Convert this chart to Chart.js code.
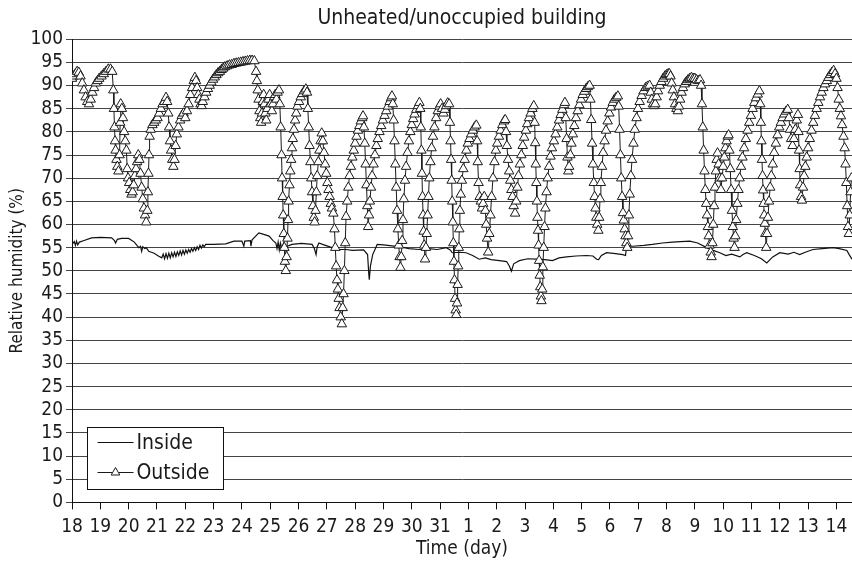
<!DOCTYPE html>
<html>
<head>
<meta charset="utf-8">
<title>Unheated/unoccupied building</title>
<script src="https://cdn.jsdelivr.net/npm/chart.js@4.4.1/dist/chart.umd.min.js"></script>
<style>
  html, body { margin: 0; padding: 0; background: #fff; overflow: hidden; }
  #wrap { width: 852px; height: 562px; position: relative; }
</style>
</head>
<body>
<div id="wrap"><canvas id="chart"></canvas></div>
<script>
// x = days since the 18th (0 = day 18, 14 = day 1, 27 = day 14)
const dayLabels = ['18','19','20','21','22','23','24','25','26','27','28','29','30','31',
                   '1','2','3','4','5','6','7','8','9','10','11','12','13','14'];

const insideTime = [
  0.00,0.08,0.12,0.16,0.20,0.26,0.40,0.69,1.00,1.40,1.50,1.54,1.60,1.75,2.00,2.20,2.36,2.42,2.46,2.50,
  2.57,2.62,2.71,2.90,3.05,3.17,3.22,3.27,3.32,3.37,3.42,3.47,3.52,3.57,3.62,3.67,3.72,3.77,3.82,3.87,
  3.92,3.97,4.02,4.07,4.12,4.17,4.22,4.27,4.32,4.37,4.42,4.47,4.52,4.57,4.62,4.67,4.72,5.00,5.43,5.72,
  6.00,6.07,6.10,6.30,6.32,6.36,6.60,6.80,6.96,7.10,7.20,7.24,7.28,7.32,7.36,7.41,7.46,7.50,7.56,7.77,
  8.10,8.48,8.56,8.62,8.66,8.72,8.90,9.18,9.40,9.68,9.90,10.30,10.44,10.48,10.50,10.54,10.62,10.78,11.00,11.30,
  11.56,11.90,12.26,12.60,12.90,13.22,13.36,13.43,13.70,13.92,14.15,14.38,14.60,14.80,15.10,15.35,15.45,15.52,15.60,15.80,
  16.10,16.40,16.70,16.97,17.20,17.47,17.80,18.17,18.40,18.53,18.60,18.70,18.88,19.20,19.45,19.55,19.59,19.80,20.20,20.50,
  20.86,21.20,21.50,21.82,22.10,22.42,22.65,22.88,23.10,23.30,23.59,23.70,23.83,24.10,24.35,24.54,24.75,25.00,25.30,25.50,
  25.70,25.90,26.17,26.50,26.88,27.10,27.37,27.45,27.55
];
const insideRH = [
  55.7,56.3,55.5,56.4,55.6,56.2,56.5,57.1,57.2,57.1,56.5,56.0,56.8,57.0,57.0,56.2,55.0,55.3,54.2,55.2,
  54.8,55.0,54.2,53.8,53.2,52.8,53.6,52.6,53.7,52.7,53.8,52.8,53.9,53.0,54.0,53.1,54.1,53.3,54.3,53.4,
  54.4,53.6,54.5,53.8,54.6,54.0,54.8,54.2,55.0,54.4,55.2,54.6,55.5,54.9,55.6,55.2,55.7,55.7,55.8,56.4,
  56.4,55.3,56.4,56.5,55.3,56.7,58.2,57.8,57.5,56.5,56.0,54.8,56.2,54.5,56.0,54.8,55.8,54.5,55.2,55.7,
  55.9,55.7,54.8,53.5,55.2,56.0,55.6,55.0,54.6,54.6,54.4,54.5,53.5,49.5,48.1,51.0,53.5,55.7,55.6,55.4,
  55.2,54.8,54.6,54.8,54.6,55.0,54.5,53.9,54.0,53.9,53.3,52.5,52.8,52.4,52.2,52.0,51.0,49.9,51.5,52.2,
  52.6,52.5,52.4,52.2,52.8,53.0,53.2,53.3,53.2,52.5,52.4,53.3,53.9,53.7,53.5,53.3,55.3,55.3,55.5,55.7,
  56.0,56.2,56.3,56.4,56.0,55.0,54.4,53.9,53.3,53.6,53.0,53.5,53.9,53.3,52.6,51.7,53.0,53.9,53.6,54.0,
  53.5,54.0,54.6,54.8,55.0,54.8,54.4,53.5,52.5
];

const outsideTime = [
  0.00,0.06,0.12,0.18,0.24,0.30,0.36,0.42,0.48,0.54,0.60,0.66,0.72,0.78,0.84,0.90,0.96,
  1.04,1.12,1.20,1.28,1.36,1.42,1.46,1.48,1.50,1.52,1.54,1.57,1.60,1.64,1.68,1.70,1.72,1.76,1.80,1.84,1.88,1.92,1.95,1.98,
  2.02,2.06,2.10,2.14,2.18,2.22,2.26,2.30,2.34,2.38,2.42,2.46,2.50,2.54,2.58,2.62,2.66,2.68,2.70,2.72,2.74,2.78,2.84,2.90,2.96,
  3.02,3.08,3.14,3.20,3.26,3.32,3.36,3.40,3.43,3.46,3.50,3.54,3.58,3.62,3.66,3.70,3.76,3.82,3.88,3.94,
  4.00,4.06,4.12,4.18,4.24,4.30,4.34,4.38,4.42,4.46,4.50,4.54,4.58,4.62,4.68,4.74,4.80,4.86,4.92,4.98,
  5.04,5.10,5.16,5.22,5.28,5.34,5.40,5.48,5.56,5.64,5.72,5.80,5.88,5.96,
  6.04,6.12,6.20,6.28,6.36,6.44,6.50,6.53,6.56,6.59,6.62,6.65,6.68,6.71,6.74,6.77,6.80,6.83,6.86,6.90,6.94,6.98,
  7.02,7.06,7.10,7.14,7.18,7.22,7.26,7.31,7.34,7.37,7.40,7.42,7.44,7.46,7.48,7.50,7.52,7.55,7.58,7.61,7.63,7.65,7.68,7.71,7.74,7.77,7.80,7.84,7.88,7.92,7.96,
  8.02,8.08,8.14,8.20,8.26,8.30,8.33,8.36,8.39,8.42,8.45,8.48,8.51,8.54,8.57,8.60,8.63,8.66,8.70,8.74,8.78,8.82,8.86,8.90,8.94,8.98,
  9.02,9.06,9.10,9.14,9.18,9.23,9.27,9.30,9.33,9.36,9.39,9.42,9.45,9.49,9.53,9.56,9.59,9.62,9.65,9.68,9.72,9.76,9.80,9.85,9.90,9.95,
  10.00,10.05,10.10,10.15,10.20,10.25,10.28,10.31,10.34,10.37,10.40,10.43,10.46,10.49,10.52,10.56,10.60,10.65,10.70,10.75,10.80,10.86,10.92,10.98,
  11.04,11.10,11.16,11.22,11.27,11.30,11.33,11.36,11.39,11.42,11.45,11.48,11.51,11.54,11.57,11.60,11.63,11.66,11.69,11.72,11.76,11.80,11.85,11.90,11.95,
  12.00,12.05,12.10,12.16,12.22,12.27,12.30,12.32,12.34,12.36,12.38,12.40,12.42,12.44,12.47,12.50,12.53,12.56,12.59,12.62,12.66,12.70,12.75,12.80,12.86,12.92,12.98,
  13.02,13.07,13.12,13.17,13.22,13.27,13.32,13.35,13.37,13.39,13.41,13.43,13.45,13.47,13.49,13.51,13.53,13.55,13.57,13.60,13.62,13.64,13.66,13.68,13.70,13.73,13.77,13.82,13.87,13.93,13.98,
  14.04,14.10,14.16,14.22,14.28,14.31,14.33,14.36,14.40,14.44,14.48,14.52,14.56,14.60,14.63,14.66,14.70,14.74,14.78,14.82,14.87,14.92,14.97,
  15.02,15.08,15.14,15.20,15.26,15.30,15.33,15.36,15.40,15.44,15.48,15.52,15.56,15.60,15.65,15.69,15.73,15.77,15.82,15.87,15.92,15.97,
  16.03,16.08,16.14,16.20,16.26,16.31,16.34,16.36,16.38,16.40,16.42,16.44,16.46,16.48,16.50,16.52,16.54,16.56,16.58,16.61,16.63,16.66,16.69,16.72,16.76,16.80,16.85,16.90,16.95,
  17.02,17.08,17.14,17.20,17.26,17.32,17.38,17.41,17.44,17.47,17.50,17.53,17.56,17.60,17.64,17.69,17.74,17.80,17.86,17.92,17.98,
  18.04,18.10,18.16,18.22,18.28,18.31,18.34,18.37,18.40,18.43,18.46,18.49,18.52,18.55,18.59,18.62,18.65,18.68,18.72,18.76,18.81,18.86,18.92,18.98,
  19.04,19.10,19.16,19.22,19.28,19.31,19.34,19.37,19.40,19.43,19.46,19.49,19.52,19.55,19.58,19.61,19.64,19.67,19.70,19.74,19.78,19.83,19.88,19.94,19.99,
  20.05,20.12,20.19,20.26,20.33,20.40,20.44,20.48,20.52,20.56,20.60,20.65,20.70,20.76,20.82,20.88,20.94,
  21.00,21.06,21.10,21.14,21.18,21.22,21.26,21.30,21.35,21.40,21.44,21.48,21.53,21.58,21.64,21.70,21.76,21.82,21.88,21.94,
  22.00,22.06,22.12,22.18,22.22,22.25,22.28,22.31,22.34,22.37,22.40,22.43,22.46,22.49,22.52,22.56,22.59,22.62,22.65,22.68,22.71,22.74,22.77,22.80,22.84,22.88,22.92,22.96,
  23.00,23.04,23.08,23.12,23.16,23.19,23.22,23.25,23.28,23.31,23.34,23.37,23.40,23.43,23.46,23.50,23.54,23.58,23.63,23.68,23.74,23.80,23.86,23.92,23.98,
  24.04,24.10,24.16,24.22,24.28,24.31,24.33,24.35,24.37,24.39,24.41,24.43,24.45,24.47,24.49,24.52,24.55,24.58,24.62,24.66,24.70,24.75,24.80,24.86,24.92,24.98,
  25.04,25.10,25.16,25.22,25.28,25.32,25.36,25.40,25.45,25.50,25.55,25.60,25.64,25.66,25.68,25.70,25.72,25.75,25.78,25.82,25.86,25.90,25.95,
  26.00,26.06,26.12,26.18,26.24,26.30,26.36,26.42,26.48,26.54,26.60,26.66,26.72,26.78,26.84,26.90,26.95,
  27.00,27.04,27.08,27.12,27.16,27.20,27.25,27.29,27.32,27.35,27.38,27.41,27.44,27.47,27.50,27.53
];
const outsideRH = [
  91.5,92,92.5,93,92.8,92,90.5,89,87.5,86.5,86,87,88.5,89.5,90.5,91,91.5,
  92,92.5,93,93.5,93.5,93,89,85,81,78,76,74,72.5,71.5,75,82,86,85,83,80,78,76,72,70,
  69,67.5,66.5,67,68.5,70.5,72,73.5,75,74,71,68,65.5,63.5,62,60.5,63,67,71,75,79,80.5,81.5,82,82.5,
  83,84,85,86,86.5,87.4,86.5,84,81,78,76,74,72.5,74,77,79.5,81,82.5,83.5,84,
  83,84.5,86,88,89.5,91,91.7,91,89.5,88,87,86,85.6,86.5,87.5,88.5,89.3,90,90.7,91.3,
  91.8,92.3,92.7,93,93.4,93.7,94,94.2,94.4,94.5,94.7,94.8,94.9,95,
  95.1,95.2,95.3,95.4,95.4,95.3,93,91,89,87,84.5,83,82,84,86.5,88,86,84,82.5,85,87,88,
  86,84.5,86,87.5,88,87,88.5,89,86,81,75,70,66,62,58,55,52,50,53,57,61,65,68.5,71.5,74,76.5,78.5,80.5,82.5,84,85.5,
  86.5,87.5,88.2,88.8,89.2,88.5,85,81,77,73.5,70,67,64,61.5,60.5,63,67,70.5,73.5,76,78,79.7,78,75.5,73,71,
  69,67.5,66,64.5,63.5,62.4,59,55,51,48,46,44,42,40,38.5,42,45,50,56,61.7,65,68,70.5,72.5,74.5,76,
  77.5,79,80.3,81.3,82.3,83,83.4,81,77.5,73,68.5,64,59.5,62,65,68,70.5,73,75,77,78.5,80,81.3,82.5,
  83.5,84.5,85.5,86.5,87.3,87.7,86,82.5,78,73,68,63,59,55.5,53,50.7,53,56.5,61,65.5,69.5,72.5,75.5,78,80,
  81.5,82.8,83.8,84.8,85.6,86.3,85,81,76,71,66,62,58.5,55.5,52.5,55,58,62,66,70,73.5,76.5,79,81,83,84.5,85.5,
  86,85,84,84.8,85.6,86.2,86,82,78,74,69.5,65,60.5,56,52,48,44,41.5,40.5,43,47,51,55,59,63,66.5,69.5,72,74,76,77.5,
  78.5,79.5,80.3,81,81.4,78,73.5,69,66,65,63.5,64.5,66,63,60,57,54,58,62,66,70,73.5,76,
  77.5,79,80.3,81.5,82.3,82.6,80,77,74,71.5,69.5,67.5,66,64,62.4,65,68,70.5,73,75,77,78.8,
  80.3,81.7,83,84,85,85.6,82,77.6,73,69,65,61.5,58.7,55.5,52.2,49,46.5,44.5,43.5,46,50.8,55,59.5,63.5,67,70,72.5,74.7,76.5,
  78,79.5,81,82.5,83.7,84.8,85.8,86.3,83,78.5,74.5,71.5,72.5,75,77.5,79.5,81.3,83,84.5,85.8,87,
  88,88.7,89.3,89.7,90,87,82.6,77.5,73,69,66,63.5,61.5,60,58.7,61.5,65.5,69,72.5,75.5,78,80.3,82.3,84,
  85.3,86.3,87,87.4,87.7,85.5,80.5,75,70,66,62.5,60.9,59,57.5,56,55,57.5,62,66.5,70.5,74,77.5,80.5,83,85,
  86.5,87.8,88.8,89.5,89.8,90,88.5,87,86,85.6,86,87.5,88.8,90,90.8,91.5,92,
  92.3,92.5,92.5,92,90.5,89,87.5,86,85,84.5,85.5,87,88.5,89.5,90.3,90.8,91.2,91.5,91.7,91.5,
  91.5,91.2,91,91.2,90,86,81,76,71.5,67.5,64.5,62,59.5,57.5,55.5,54,53,56,60,64,68,71.5,74,75.4,73,70,67.5,70,
  72.5,74.5,76.5,78,79,79.3,76,72,67.5,63,59.5,57,55,57.5,61,64.5,67.5,70,72.5,74.5,76.5,78.5,80.3,82,83.5,
  85,86.3,87.3,88.1,88.8,86,82,78,74,70.5,67.4,64.5,62,60.2,58,55,58,61.5,65,68,70.5,73,75.5,77.5,79.3,81,
  82,83,83.8,84.4,84.8,83,80.5,78.5,77,78.5,80.5,82.5,83.7,80,76,72,68.5,66,65.2,68,70.5,72.5,74.5,
  76.5,78.5,80.3,82,83.5,85,86.3,87.5,88.5,89.5,90.3,91,91.7,92.3,92.8,93.2,92.5,
  91.5,89.5,87,85,83.4,81.5,79,76.5,73,69,64,59.5,58,62,67,70
];

const FONT = "'Liberation Sans Narrow', 'DejaVu Sans Condensed', 'Liberation Sans', Arial, sans-serif";
Chart.defaults.font.family = FONT;
Chart.defaults.font.size = 19;
Chart.defaults.color = '#1a1a1a';

const toPoints = (xs, ys) => xs.map((x, i) => ({ x, y: ys[i] }));

// legend drawn in the lower-left corner of the plot, like the original figure
const legendBox = {
  id: 'legendBox',
  afterDraw(chart) {
    const { ctx, chartArea } = chart;
    const x0 = Math.round(chartArea.left) + 15.5;
    const y0 = Math.round(chartArea.bottom) - 74.5;
    const w = 136, h = 62;
    ctx.save();
    ctx.fillStyle = '#fff';
    ctx.fillRect(x0, y0, w, h);
    ctx.strokeStyle = '#111';
    ctx.lineWidth = 1;
    ctx.strokeRect(x0, y0, w, h);
    ctx.font = '21px ' + FONT;
    ctx.textBaseline = 'middle';
    const rows = [chart.data.datasets[1], chart.data.datasets[0]];
    rows.forEach((ds, i) => {
      const cy = y0 + 15 + i * 30;
      ctx.strokeStyle = ds.borderColor;
      ctx.lineWidth = 1;
      ctx.beginPath();
      ctx.moveTo(x0 + 10, cy);
      ctx.lineTo(x0 + 46, cy);
      ctx.stroke();
      if (ds.pointRadius > 0) {
        ctx.fillStyle = '#fff';
        ctx.strokeStyle = ds.pointBorderColor;
        Chart.helpers.drawPoint(ctx, { pointStyle: 'triangle', radius: 5, borderWidth: 1 }, x0 + 28, cy);
      }
      ctx.fillStyle = '#1a1a1a';
      ctx.fillText(ds.label, x0 + 49, cy + 1);
    });
    ctx.restore();
  }
};

new Chart(document.getElementById('chart'), {
  type: 'line',
  data: {
    datasets: [
      {
        label: 'Outside',
        data: toPoints(outsideTime, outsideRH),
        borderColor: '#1a1a1a',
        borderWidth: 1,
        pointStyle: 'triangle',
        pointRadius: 5.5,
        pointBackgroundColor: '#fff',
        pointBorderColor: '#1a1a1a',
        pointBorderWidth: 1,
        order: 1
      },
      {
        label: 'Inside',
        data: toPoints(insideTime, insideRH),
        borderColor: '#111',
        borderWidth: 1.2,
        pointRadius: 0,
        order: 2
      }
    ]
  },
  options: {
    responsive: true,
    maintainAspectRatio: false,
    animation: false,
    layout: { autoPadding: false, padding: { top: 0, right: 0, left: 7, bottom: 2 } },
    plugins: {
      legend: { display: false },
      tooltip: { enabled: false },
      title: {
        display: true,
        fullSize: false,
        text: 'Unheated/unoccupied building',
        font: { size: 21, weight: 'normal' },
        color: '#1a1a1a',
        padding: { top: 6, bottom: 8 }
      }
    },
    scales: {
      x: {
        type: 'linear',
        min: 0,
        max: 27.55,
        grid: { drawOnChartArea: false, drawTicks: true, tickLength: 7, color: '#111' },
        border: { color: '#111', width: 1 },
        ticks: {
          stepSize: 1,
          includeBounds: false,
          autoSkip: false,
          maxRotation: 0,
          padding: 6,
          callback: v => dayLabels[v]
        },
        title: { display: true, text: 'Time (day)', padding: { top: -7, bottom: 0 } },
        afterFit: scale => { scale.paddingRight = 0; }
      },
      y: {
        min: 0,
        max: 100,
        grid: { color: '#444', lineWidth: 1, tickLength: 6 },
        border: { color: '#111', width: 1 },
        ticks: { stepSize: 5, padding: 3, autoSkip: false },
        title: {
          display: true,
          text: 'Relative humidity (%)',
          font: { size: 17 },
          padding: { top: 0, bottom: 0 }
        }
      }
    }
  },
  plugins: [legendBox]
});
</script>
</body>
</html>
